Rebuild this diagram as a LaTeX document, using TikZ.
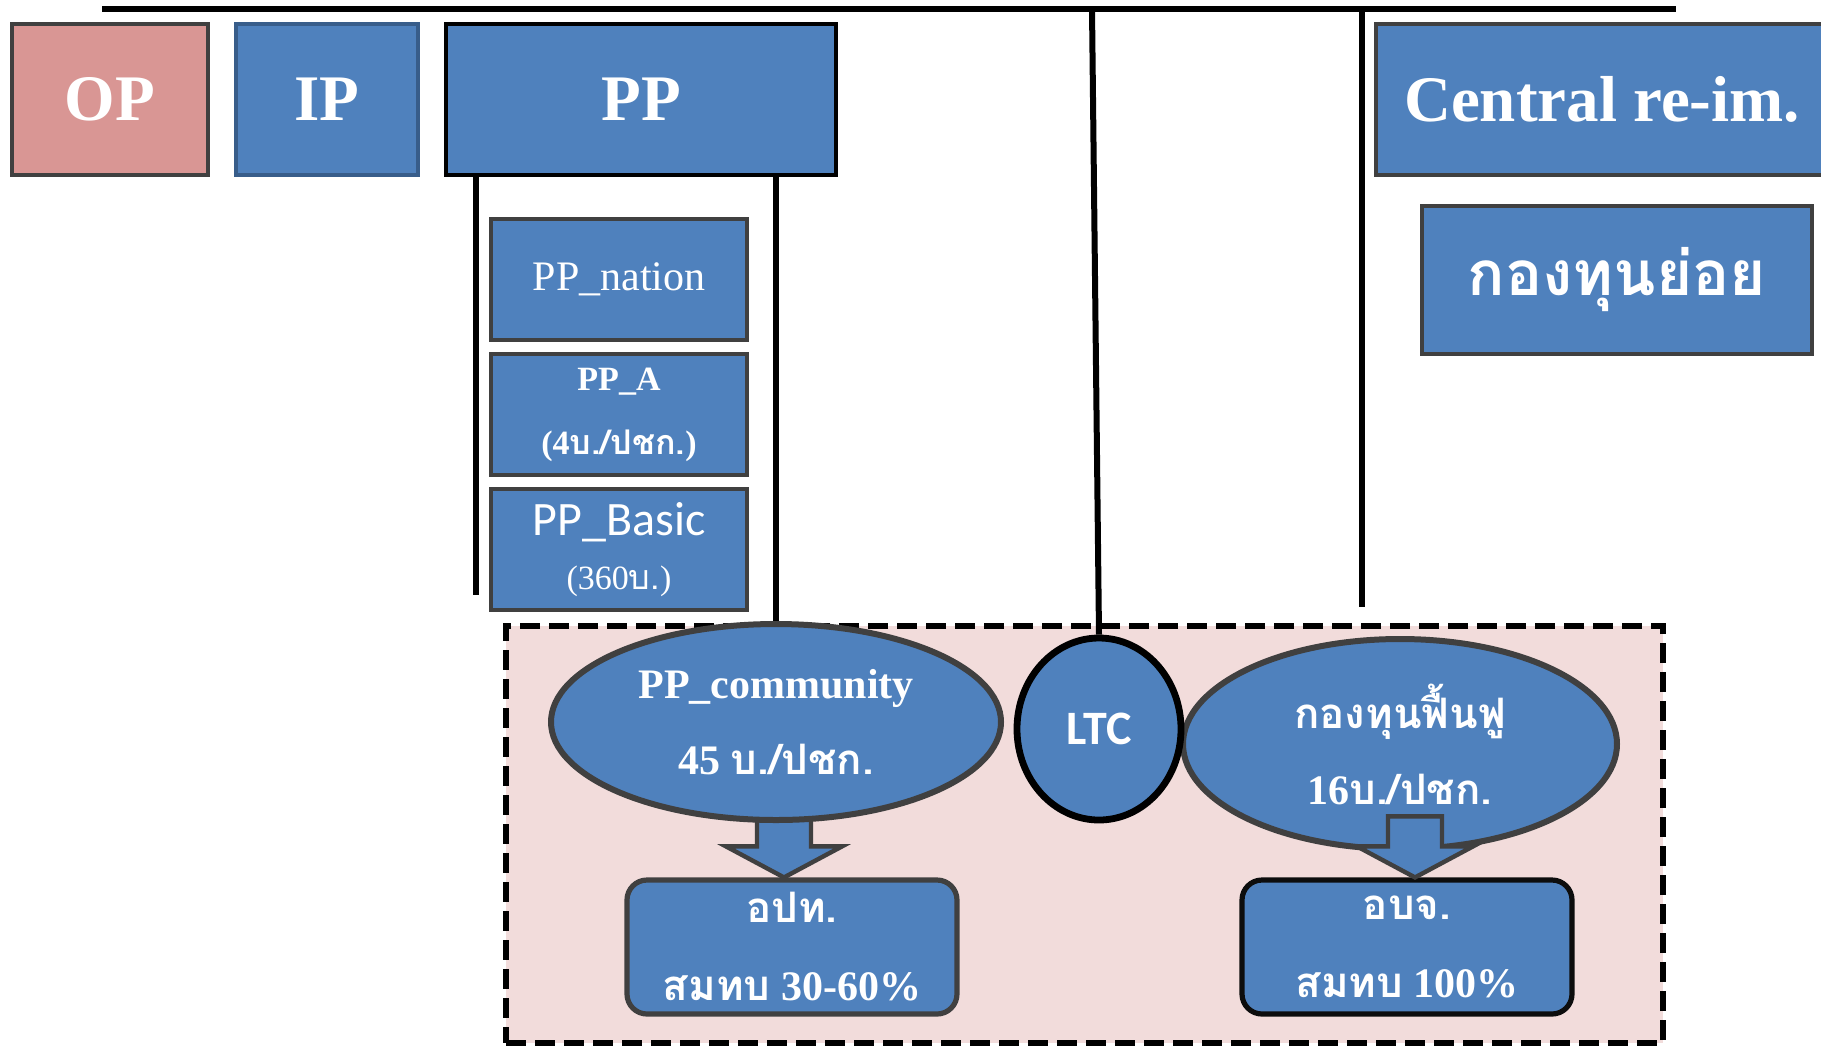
\documentclass[tikz,border=0pt]{standalone}
\usepackage{fontspec}
\setmainfont{Liberation Serif}
\newfontfamily\thaifont[Script=Thai]{Loma}
\newfontfamily\calibfont{Carlito}
\newcommand\thtxt[1]{{\thaifont #1}}
\usepackage{tikz}
\usetikzlibrary{shapes.geometric,calc}
\definecolor{boxblue}{HTML}{4F81BD}
\definecolor{boxpink}{HTML}{D99694}
\definecolor{zonepink}{HTML}{F2DCDB}
\definecolor{edgegray}{HTML}{404040}
\definecolor{edgeblue}{HTML}{385D8A}
\tikzset{
  fund/.style={draw=edgegray, fill=boxblue, text=white, line width=2.2pt, align=center, inner sep=0pt},
  topbox/.style={fund, minimum height=75.5pt, font=\fontsize{32.5}{39}\selectfont\bfseries},
  subbox/.style={fund, minimum width=128pt, minimum height=60.5pt},
  resultbox/.style={fund, line width=2.6pt, rounded corners=10pt, minimum width=165pt, minimum height=67pt, font=\fontsize{21}{39}\selectfont\bfseries},
  fundoval/.style={fund, ellipse, line width=3pt, font=\fontsize{21}{38}\selectfont\bfseries},
  zone/.style={draw=black, fill=zonepink, line width=3pt, dash pattern=on 10pt off 4.5pt, minimum width=578.5pt, minimum height=208.5pt},
  link/.style={line width=3pt},
  blockarrow/.style={fill=boxblue, draw=edgegray, line width=2.2pt, line join=miter}
}

\begin{document}
\begin{tikzpicture}[x=0.5pt,y=-0.5pt]
  \useasboundingbox (0,0) rectangle (1821,1046);
  \node[zone] (zone) at (1084.5,834.5) {};

  \node[topbox, fill=boxpink, minimum width=98pt] (op) at (110,99.5) {OP};
  \node[topbox, draw=edgeblue, minimum width=91pt] (ip) at (327,99.5) {IP};
  \node[topbox, draw=black, minimum width=195pt] (pp) at (641,99.5) {PP};
  \node[topbox, minimum width=226pt] (central) at (1602,99.5) {Central re-im.};
  \node[fund, minimum width=195pt, minimum height=74pt, font=\thaifont\fontsize{31}{36}\selectfont\bfseries] (subfund) at (1617,280) {กองทุนย่อย};

  \node[subbox, font=\fontsize{21}{25}\selectfont] (ppnation) at (619,279.5) {PP\_nation};
  \node[subbox, font=\fontsize{17}{32}\selectfont\bfseries] (ppa) at (619,414.5) {PP\_A\\(4\thtxt{บ./ปชก.})};
  \node[subbox, font=\fontsize{17}{27}\selectfont] (ppbasic) at (619,549.5) {{\calibfont\fontsize{24}{27}\selectfont PP\_Basic}\\(360\thtxt{บ.})};

  \node[resultbox] (lao) at (792,947) {\thtxt{อปท.}\\\thtxt{สมทบ} 30-60\%};
  \node[resultbox, draw=black!95] (pao) at (1407,947) {\thtxt{อบจ.}\\\thtxt{สมทบ} 100\%};
  \draw[blockarrow] ($(lao.north)+(-8,0)$) -- ++(-58,-31) -- ++(31,0) -- ++(0,-30) -- ++(54,0) -- ++(0,30) -- ++(31,0) -- cycle;

  \node[fundoval, minimum width=225pt, minimum height=98pt] (ppcom) at (776,722) {PP\_community\\45 \thtxt{บ./ปชก.}};
  \node[fundoval, minimum width=217pt, minimum height=105pt] (rehab) at (1400,744) {\thtxt{กองทุนฟื้นฟู}\\16\thtxt{บ./ปชก.}};
  \draw[blockarrow] ($(pao.north)+(8,0)$) -- ++(-58,-31) -- ++(31,0) -- ++(0,-30) -- ++(54,0) -- ++(0,30) -- ++(31,0) -- cycle;
  \node[fund, ellipse, draw=black, line width=3.4pt, minimum width=82pt, minimum height=91pt, font=\calibfont\fontsize{24}{29}\selectfont\bfseries] (ltc) at (1099,729) {LTC};

  \coordinate (busL) at (102,9);
  \coordinate (busR) at (1676,9);
  \coordinate (ltctop) at (1092,9);
  \coordinate (subtop) at (1362,9);
  \coordinate (subend) at (1362,607);
  \coordinate (ppend) at (476,595);
  \draw[link] (busL) -- (busR);
  \draw[link] (ltctop) -- (ltc.north);
  \draw[link] (subtop) -- (subend);
  \draw[link] (pp.south -| ppend) -- (ppend);
  \draw[link] (pp.south -| ppcom.north) -- (ppcom.north);
\end{tikzpicture}
\end{document}
